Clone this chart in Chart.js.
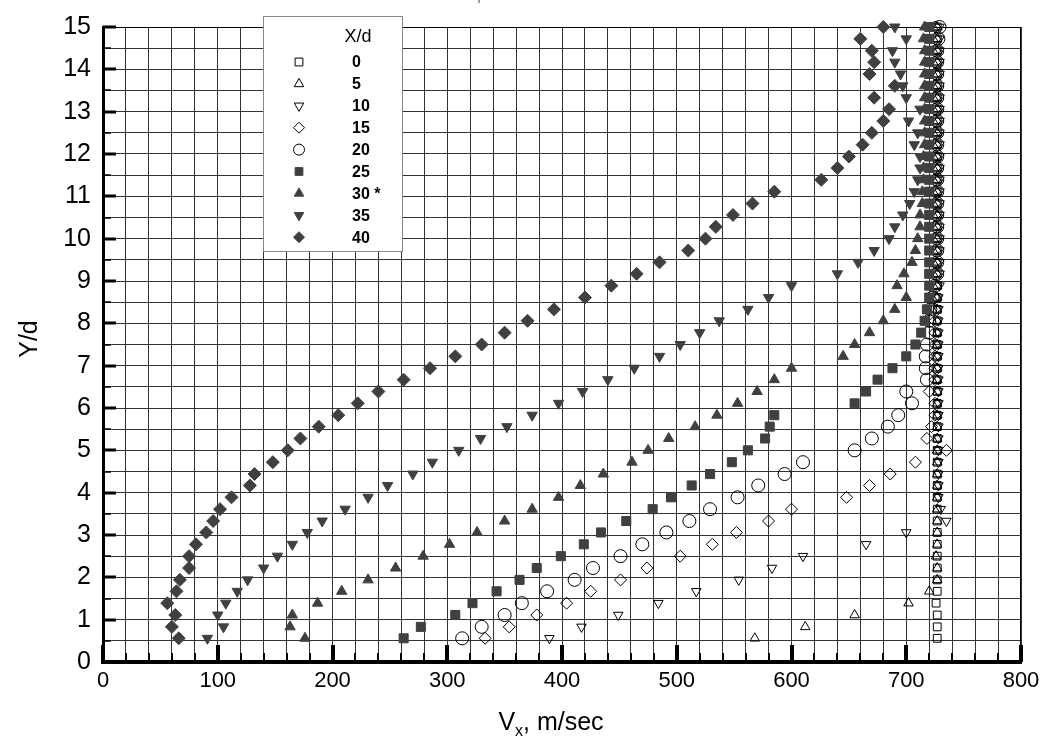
<!DOCTYPE html>
<html>
<head>
<meta charset="utf-8">
<script src="https://cdn.jsdelivr.net/npm/chart.js@4.4.1/dist/chart.umd.min.js"></script>
<style>
  html, body { margin: 0; padding: 0; background: #fff; }
  #wrap { width: 1047px; height: 744px; }
</style>
</head>
<body>
<div id="wrap"><canvas id="chart" width="1047" height="744"></canvas></div>
<script>
/* ---------------- Data ---------------- */
// Y/d stations shared by every X/d profile
const yd = [0.56, 0.83, 1.11, 1.39, 1.67, 1.94, 2.22, 2.5, 2.78, 3.06, 3.33, 3.61, 3.89, 4.17, 4.44, 4.72, 5.0,
            5.28, 5.56, 5.83, 6.11, 6.39, 6.67, 6.94, 7.22, 7.5, 7.78, 8.06, 8.33, 8.61, 8.89, 9.17, 9.44, 9.72,
            10.0, 10.28, 10.56, 10.83, 11.11, 11.39, 11.67, 11.94, 12.22, 12.5, 12.78, 13.06, 13.33, 13.61,
            13.89, 14.17, 14.44, 14.72, 15.0];

// Vx (m/sec) at each station, one list per X/d
const vx0  = [727, 727, 727, 726, 727, 727, 727, 727, 727, 727, 727, 727, 727, 727, 727, 727, 727, 727, 727,
              727, 727, 727, 727, 727, 727, 727, 727, 727, 727, 727, 727, 727, 727, 727, 727, 727, 727, 727,
              727, 727, 727, 727, 727, 727, 727, 727, 727, 727, 727, 727, 727, 727, 727];
const vx5  = [568, 612, 655, 702, 720, 727, 727, 726, 727, 727, 727, 727, 727, 727, 727, 727, 727, 727, 727,
              727, 727, 727, 727, 727, 727, 727, 727, 727, 727, 727, 727, 727, 727, 727, 727, 727, 727, 727,
              727, 727, 727, 727, 727, 727, 727, 727, 727, 727, 727, 727, 727, 727, 727];
const vx10 = [389, 417, 449, 484, 517, 554, 583, 610, 665, 700, 735, 730, 728, 728, 728, 728, 728, 728, 728,
              728, 728, 728, 728, 728, 728, 728, 728, 728, 728, 728, 729, 729, 729, 729, 729, 729, 729, 729,
              729, 729, 729, 729, 729, 729, 729, 729, 729, 729, 729, 729, 729, 729, 729];
const vx15 = [333, 354, 378, 404, 425, 451, 474, 503, 531, 552, 580, 600, 648, 668, 686, 708, 735, 718, 722,
              725, 725, 720, 725, 725, 725, 725, 725, 725, 725, 725, 725, 725, 725, 725, 725, 725, 725, 725,
              725, 725, 725, 725, 725, 725, 725, 725, 725, 725, 725, 725, 725, 725, 725];
const vx20 = [313, 330, 350, 365, 387, 411, 427, 451, 470, 491, 511, 529, 553, 571, 594, 610, 655, 670, 684,
              693, 705, 700, 718, 717, 717, 718, 720, 720, 721, 723, 725, 727, 727, 727, 727, 727, 727, 727,
              727, 727, 727, 727, 727, 727, 727, 727, 727, 727, 727, 727, 727, 728, 729];
const vx25 = [262, 277, 307, 322, 343, 363, 378, 399, 419, 434, 456, 479, 495, 513, 529, 548, 562, 577, 581,
              585, 655, 665, 675, 688, 700, 708, 713, 716, 718, 720, 720, 720, 720, 720, 720, 720, 720, 720,
              720, 720, 720, 720, 720, 720, 720, 720, 720, 720, 720, 720, 720, 720, 720];
const vx30 = [176, 163, 165, 187, 208, 231, 255, 279, 302, 326, 350, 374, 397, 416, 436, 461, 475, 493, 516,
              535, 553, 570, 585, 600, 645, 655, 668, 680, 690, 700, 692, 698, 705, 708, 710, 712, 712, 714,
              714, 715, 715, 715, 716, 716, 716, 716, 716, 716, 716, 716, 716, 715, 716];
const vx35 = [91, 105, 100, 107, 117, 126, 140, 152, 165, 178, 191, 211, 231, 248, 270, 287, 310, 329, 352,
              374, 397, 418, 440, 463, 485, 503, 520, 537, 562, 580, 600, 640, 658, 672, 685, 690, 697, 703,
              707, 710, 712, 712, 707, 710, 702, 712, 700, 697, 695, 690, 688, 700, 690];
const vx40 = [66, 60, 63, 56, 64, 67, 75, 75, 81, 90, 96, 102, 112, 128, 132, 148, 161, 172, 188, 205, 222,
              240, 262, 285, 307, 330, 350, 370, 393, 420, 443, 465, 485, 510, 525, 534, 549, 566, 585, 626,
              640, 650, 662, 670, 680, 685, 672, 690, 668, 672, 670, 660, 680];

const seriesNames = ["0", "5", "10", "15", "20", "25", "30 *", "35", "40"];
const seriesVx = [vx0, vx5, vx10, vx15, vx20, vx25, vx30, vx35, vx40];

const xTicks = [0, 100, 200, 300, 400, 500, 600, 700, 800];
const yTicks = [0, 1, 2, 3, 4, 5, 6, 7, 8, 9, 10, 11, 12, 13, 14, 15];

/* ---------------- Marker styles ---------------- */
const FILL = "#404040";
const markers = [
    { pointStyle: "rect",     rotation: 0,   radius: 5.5, filled: false },
    { pointStyle: "triangle", rotation: 0,   radius: 5.5, filled: false },
    { pointStyle: "triangle", rotation: 180, radius: 5.5, filled: false },
    { pointStyle: "rectRot",  rotation: 0,   radius: 6,   filled: false },
    { pointStyle: "circle",   rotation: 0,   radius: 6.5, filled: false },
    { pointStyle: "rect",     rotation: 0,   radius: 6.4, filled: true },
    { pointStyle: "triangle", rotation: 0,   radius: 6,   filled: true },
    { pointStyle: "triangle", rotation: 180, radius: 6,   filled: true },
    { pointStyle: "rectRot",  rotation: 0,   radius: 6.5, filled: true }
];

const datasets = seriesVx.map((vx, i) => {
    const m = markers[i];
    return {
        label: seriesNames[i],
        data: vx.map((v, k) => ({ x: v, y: yd[k] })),
        pointStyle: m.pointStyle,
        rotation: m.rotation,
        pointRadius: m.radius,
        pointHoverRadius: m.radius,
        backgroundColor: m.filled ? FILL : "rgba(0,0,0,0)",
        borderColor: m.filled ? FILL : "#000",
        borderWidth: 1,
        showLine: false,
        clip: false,
        order: seriesVx.length - i
    };
});

/* ---------------- Decorations ---------------- */
const decor = {
    id: "decor",
    beforeDatasetsDraw(chart) {
        const { ctx, chartArea: a, scales: { x, y } } = chart;
        ctx.save();
        ctx.strokeStyle = "#000";

        // top / right frame
        ctx.lineWidth = 1;
        ctx.beginPath();
        ctx.moveTo(a.left, a.top + 0.5); ctx.lineTo(a.right, a.top + 0.5);
        ctx.moveTo(a.right - 0.5, a.top); ctx.lineTo(a.right - 0.5, a.bottom);
        ctx.stroke();

        // inward ticks on the bottom axis
        x.ticks.forEach(t => {
            const px = Math.round(x.getPixelForValue(t.value));
            const major = xTicks.includes(t.value);
            ctx.lineWidth = major ? 4 : 2;
            ctx.beginPath();
            ctx.moveTo(px, a.bottom);
            ctx.lineTo(px, a.bottom - (major ? 17 : 9));
            ctx.stroke();
        });

        // inward ticks on the left axis
        y.ticks.forEach(t => {
            const py = Math.round(y.getPixelForValue(t.value));
            const major = yTicks.includes(t.value);
            ctx.lineWidth = major ? 3 : 1.5;
            ctx.beginPath();
            ctx.moveTo(a.left, py);
            ctx.lineTo(a.left + (major ? 13 : 8), py);
            ctx.stroke();
        });
        ctx.restore();
    },
    afterDraw(chart) {
        const { ctx } = chart;
        ctx.save();

        // title, mostly cut off by the top of the picture
        ctx.fillStyle = "#777";
        ctx.font = "16px Arial, 'Liberation Sans'";
        ctx.textAlign = "center";
        ctx.textBaseline = "alphabetic";
        ctx.fillText("Vx on the centerline of the flat plate surface at the location", 467, 0);

        // legend box
        ctx.fillStyle = "#fff";
        ctx.fillRect(263, 16, 139, 235);
        ctx.strokeStyle = "#888";
        ctx.lineWidth = 1;
        ctx.strokeRect(263.5, 16.5, 139, 235);

        ctx.fillStyle = "#000";
        ctx.font = "18px Arial, 'Liberation Sans'";
        ctx.textAlign = "center";
        ctx.textBaseline = "middle";
        ctx.fillText("X/d", 358, 37);

        ctx.font = "bold 16px Arial, 'Liberation Sans'";
        ctx.textAlign = "left";
        chart.data.datasets.forEach((ds, i) => {
            const ly = 62 + i * 21.9;
            ctx.save();
            ctx.fillStyle = ds.backgroundColor;
            ctx.strokeStyle = ds.borderColor;
            ctx.lineWidth = 1;
            Chart.helpers.drawPoint(ctx, {
                pointStyle: ds.pointStyle,
                rotation: ds.rotation,
                radius: Math.min(ds.pointRadius, 5.5),
                borderWidth: 1
            }, 299, ly);
            ctx.restore();
            ctx.fillStyle = "#000";
            ctx.fillText(ds.label, 352, ly + 1);
        });

        // axis titles
        ctx.fillStyle = "#000";
        ctx.font = "25px Arial, 'Liberation Sans'";
        ctx.textAlign = "center";
        ctx.textBaseline = "middle";
        ctx.save();
        ctx.translate(30, 339);
        ctx.rotate(-Math.PI / 2);
        ctx.fillText("Y/d", 0, 0);
        ctx.restore();

        const base = 730;
        ctx.textAlign = "left";
        ctx.textBaseline = "alphabetic";
        const big = "25px Arial, 'Liberation Sans'";
        const small = "16px Arial, 'Liberation Sans'";
        ctx.font = big;
        const wV = ctx.measureText("V").width;
        const wRest = ctx.measureText(", m/sec").width;
        ctx.font = small;
        const wx = ctx.measureText("x").width;
        let cx = 551 - (wV + wx + wRest) / 2;
        ctx.font = big;
        ctx.fillText("V", cx, base);
        cx += wV;
        ctx.font = small;
        ctx.fillText("x", cx, base + 6);
        cx += wx;
        ctx.font = big;
        ctx.fillText(", m/sec", cx, base);

        ctx.restore();
    }
};

/* ---------------- Chart ---------------- */
new Chart(document.getElementById("chart"), {
    type: "scatter",
    data: { datasets },
    options: {
        responsive: false,
        animation: false,
        devicePixelRatio: 1,
        layout: { padding: { top: 16, right: 26, left: 0, bottom: 0 } },
        plugins: {
            legend: { display: false },
            tooltip: { enabled: false },
            title: { display: false }
        },
        scales: {
            x: {
                type: "linear",
                min: 0,
                max: 800,
                afterFit: s => { s.height = 82; },
                ticks: {
                    stepSize: 20,
                    autoSkip: false,
                    maxRotation: 0,
                    padding: 6,
                    color: "#000",
                    font: { family: "Arial, 'Liberation Sans'", size: 22 },
                    callback: v => xTicks.includes(v) ? v : ""
                },
                grid: { color: "#333", lineWidth: 1, drawTicks: false },
                border: { display: true, color: "#000", width: 4 }
            },
            y: {
                type: "linear",
                min: 0,
                max: 15,
                afterFit: s => { s.width = 103; },
                ticks: {
                    stepSize: 0.5,
                    autoSkip: false,
                    padding: 12,
                    color: "#000",
                    font: { family: "Arial, 'Liberation Sans'", size: 25 },
                    callback: v => yTicks.includes(v) ? v : ""
                },
                grid: { color: "#333", lineWidth: 1, drawTicks: false },
                border: { display: true, color: "#000", width: 3 }
            }
        }
    },
    plugins: [decor]
});
</script>
</body>
</html>
